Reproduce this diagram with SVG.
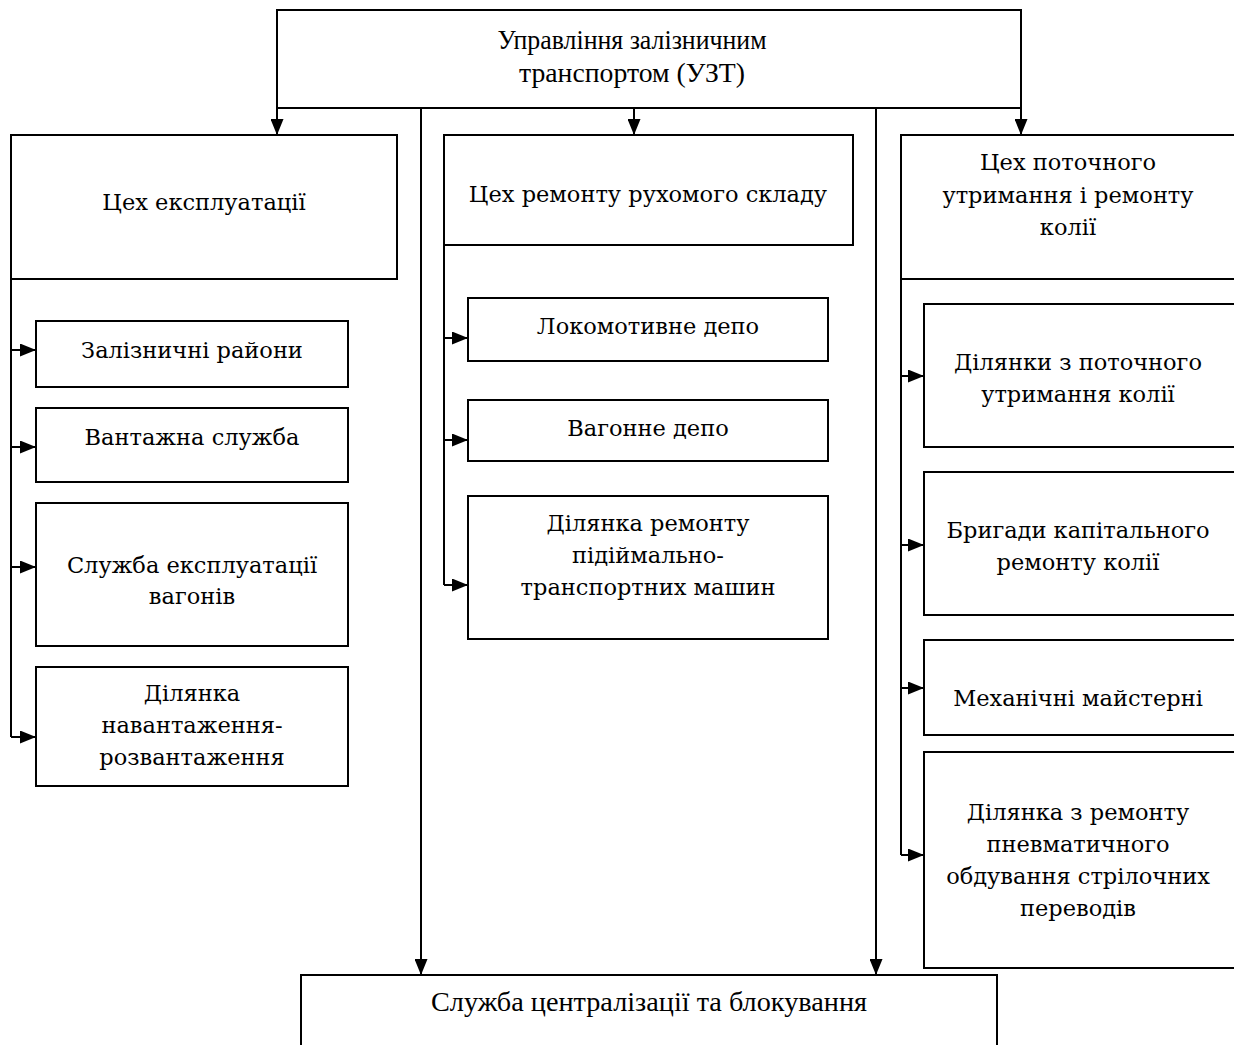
<svg xmlns="http://www.w3.org/2000/svg" width="1234" height="1045" viewBox="0 0 1234 1045">
<defs>
<marker id="ah" markerUnits="userSpaceOnUse" markerWidth="16" markerHeight="13" refX="16" refY="6.5" orient="auto">
<path d="M0,0 L16,6.5 L0,13 Z" fill="#000"/>
</marker>
<style>
rect{fill:#fff;stroke:#000;stroke-width:2}
text{font-family:"DejaVu Serif","Liberation Serif",serif;font-size:22.5px;fill:#000;text-anchor:middle}
.c{font-family:"Liberation Serif",serif;font-size:27px}
#conn path{fill:none;stroke:#000;stroke-width:2}
</style>
</defs>
<g id="conn">
<path d="M277,108 V135" marker-end="url(#ah)"/>
<path d="M634,108 V135" marker-end="url(#ah)"/>
<path d="M1021,108 V135" marker-end="url(#ah)"/>
<path d="M421,108 V975" marker-end="url(#ah)"/>
<path d="M876,108 V975" marker-end="url(#ah)"/>
<path d="M11,279 V737"/>
<path d="M11,350 H36" marker-end="url(#ah)"/>
<path d="M11,447 H36" marker-end="url(#ah)"/>
<path d="M11,567 H36" marker-end="url(#ah)"/>
<path d="M11,737 H36" marker-end="url(#ah)"/>
<path d="M444,245 V585"/>
<path d="M444,338 H468" marker-end="url(#ah)"/>
<path d="M444,440 H468" marker-end="url(#ah)"/>
<path d="M444,585 H468" marker-end="url(#ah)"/>
<path d="M901,279 V855"/>
<path d="M901,376 H924" marker-end="url(#ah)"/>
<path d="M901,545 H924" marker-end="url(#ah)"/>
<path d="M901,688 H924" marker-end="url(#ah)"/>
<path d="M901,855 H924" marker-end="url(#ah)"/>
</g>
<g id="uzt"><rect x="277" y="10" width="744" height="98"/>
<text class="c" x="632" y="49" textLength="269" lengthAdjust="spacingAndGlyphs">Управління залізничним</text>
<text class="c" x="632" y="82" textLength="226" lengthAdjust="spacingAndGlyphs">транспортом (УЗТ)</text></g>
<g id="ekspl"><rect x="11" y="135" width="386" height="144"/>
<text x="204" y="210">Цех експлуатації</text></g>
<g id="remont"><rect x="444" y="135" width="409" height="110"/>
<text x="648" y="202">Цех ремонту рухомого складу</text></g>
<g id="kolia"><rect x="901" y="135" width="340" height="144"/>
<text x="1068" y="170">Цех поточного</text>
<text x="1068" y="203">утримання і ремонту</text>
<text x="1068" y="235">колії</text></g>
<g id="l1"><rect x="36" y="321" width="312" height="66"/><text x="192" y="358">Залізничні райони</text></g>
<g id="l2"><rect x="36" y="408" width="312" height="74"/><text x="192" y="445">Вантажна служба</text></g>
<g id="l3"><rect x="36" y="503" width="312" height="143"/><text x="192" y="573">Служба експлуатації</text><text x="192" y="604">вагонів</text></g>
<g id="l4"><rect x="36" y="667" width="312" height="119"/><text x="192" y="701">Ділянка</text><text x="192" y="733">навантаження-</text><text x="192" y="765">розвантаження</text></g>
<g id="m1"><rect x="468" y="298" width="360" height="63"/><text x="648" y="334">Локомотивне депо</text></g>
<g id="m2"><rect x="468" y="400" width="360" height="61"/><text x="648" y="436">Вагонне депо</text></g>
<g id="m3"><rect x="468" y="496" width="360" height="143"/><text x="648" y="531">Ділянка ремонту</text><text x="648" y="563">підіймально-</text><text x="648" y="595">транспортних машин</text></g>
<g id="r1"><rect x="924" y="304" width="316" height="143"/><text x="1078" y="370">Ділянки з поточного</text><text x="1078" y="402">утримання колії</text></g>
<g id="r2"><rect x="924" y="472" width="316" height="143"/><text x="1078" y="538">Бригади капітального</text><text x="1078" y="570">ремонту колії</text></g>
<g id="r3"><rect x="924" y="640" width="316" height="95"/><text x="1078" y="706">Механічні майстерні</text></g>
<g id="r4"><rect x="924" y="752" width="316" height="216"/><text x="1078" y="820">Ділянка з ремонту</text><text x="1078" y="852">пневматичного</text><text x="1078" y="884">обдування стрілочних</text><text x="1078" y="916">переводів</text></g>
<g id="czb"><rect x="301" y="975" width="696" height="80"/>
<text class="c" x="649" y="1011" textLength="436" lengthAdjust="spacingAndGlyphs">Служба централізації та блокування</text></g>
</svg>
